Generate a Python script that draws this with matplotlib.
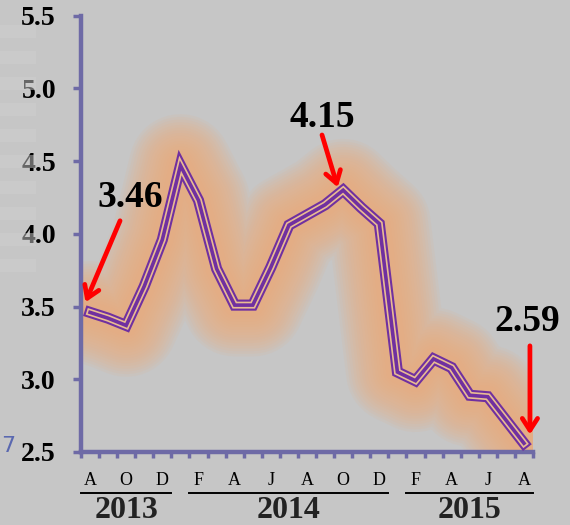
import numpy as np
import matplotlib
matplotlib.use("Agg")
import matplotlib.pyplot as plt

# =====================================
# DATA
# =====================================

rates = [3.46, 3.42, 3.37, 3.64, 3.96, 4.47, 4.23, 3.76, 3.51, 3.51, 3.77, 4.06,
         4.13, 4.20, 4.30, 4.18, 4.07, 3.05, 2.99, 3.14, 3.08, 2.89, 2.88, 2.72, 2.56]

month_labels = ["A", "O", "D", "F", "A", "J", "A", "O", "D", "F", "A", "J", "A"]
month_label_idx = [0, 2, 4, 6, 8, 10, 12, 14, 16, 18, 20, 22, 24]

years = ["2013", "2014", "2015"]
year_first_month = [0, 6, 18]     # first labelled month of each year
year_last_month = [4, 16, 24]     # last labelled month of each year

callout_text = ["3.46", "4.15", "2.59"]
callout_idx = [0, 14, 24]

# =====================================
# STYLE
# =====================================

plt.rcParams["font.family"] = ["Liberation Serif", "DejaVu Serif"]

bg = "#C6C6C6"
axis_col = "#6E6AA6"
purple = "#7030A0"
tan = "#E9BC92"
glow = "#F2AC78"

fig = plt.figure(figsize=(5.7, 5.25), dpi=100, facecolor=bg)
W, H = 570, 525
ax = fig.add_axes([81 / W, 1 - 452 / H, (533 - 81) / W, (452 - 15.7) / H])
ax.set_facecolor("none")

x = np.arange(len(rates)) + 0.5

# faint stripes at the far left (background artifact)
for k in range(10):
    fig.patches.append(plt.Rectangle((0, 1 - (38 + 26 * k) / H), 36 / W, 13 / H,
                                     transform=fig.transFigure, color="#CFCFCF",
                                     alpha=0.5, lw=0))
fig.text(1 / W, 1 - 446 / H, "7", color="#5A68B0", fontsize=16,
         family="DejaVu Sans", va="center", ha="left")

# =====================================
# GLOW + TRIPLE LINE
# =====================================

for w in np.linspace(74, 16, 16):
    ax.plot(x, rates, color=glow, lw=w, alpha=0.09,
            solid_capstyle="round", solid_joinstyle="round", zorder=1)

ax.plot(x, rates, color=purple, lw=8.0, solid_joinstyle="miter", zorder=3)
ax.plot(x, rates, color=tan, lw=5.0, solid_joinstyle="miter", zorder=4)
ax.plot(x, rates, color=purple, lw=2.6, solid_joinstyle="miter", zorder=5)

# =====================================
# AXES
# =====================================

ax.set_xlim(0, len(rates))
ax.set_ylim(2.5, 5.5)
for s in ["top", "right"]:
    ax.spines[s].set_visible(False)
for s in ["left", "bottom"]:
    ax.spines[s].set_color(axis_col)
    ax.spines[s].set_linewidth(3.2)

ax.set_yticks([2.5, 3.0, 3.5, 4.0, 4.5, 5.0, 5.5])
ax.set_yticklabels(["2.5", "3.0", "3.5", "4.0", "4.5", "5.0", "5.5"],
                   fontsize=20, fontweight="bold")
ax.tick_params(axis="y", direction="out", length=6, width=2.5,
               color=axis_col, pad=12)
ax.set_xticks(np.arange(len(rates) + 1))
ax.set_xticklabels([])
ax.tick_params(axis="x", direction="out", length=4, width=2.5, color=axis_col)

# =====================================
# MONTH / YEAR LABELS
# =====================================

tr = ax.get_xaxis_transform()
for lab, i in zip(month_labels, month_label_idx):
    ax.text(i + 0.5, -0.0757, lab, transform=tr, ha="center", va="baseline",
            fontsize=13, color="black", clip_on=False)

for yr, a, b in zip(years, year_first_month, year_last_month):
    ax.plot([a, b + 1], [-0.0935, -0.0935], transform=tr, color="black",
            lw=1.4, clip_on=False)
    ax.text((a + b + 1) / 2, -0.152, yr, transform=tr, ha="center",
            va="baseline", fontsize=23, fontweight="bold", color="#222222",
            clip_on=False)

# =====================================
# CALLOUTS
# =====================================

text_pos = [(2.71, 4.25), (13.33, 4.80), (24.67, 3.40)]
arrow_tail = [(2.16, 4.09), (13.33, 4.68), (24.83, 3.23)]
arrow_head = [(0.25, 3.53), (14.2, 4.32), (24.83, 2.62)]

for lab, tp, tl, hd in zip(callout_text, text_pos, arrow_tail, arrow_head):
    ax.text(tp[0], tp[1], lab, ha="center", va="center", fontsize=27,
            fontweight="bold", color="black", zorder=7)
    ax.annotate("", xy=hd, xytext=tl,
                arrowprops=dict(arrowstyle="->,head_length=0.85,head_width=0.55",
                                color="#FF0000", lw=3.4, shrinkA=0, shrinkB=0),
                zorder=8, annotation_clip=False)

fig.savefig("out.png", dpi=100, facecolor=bg)
